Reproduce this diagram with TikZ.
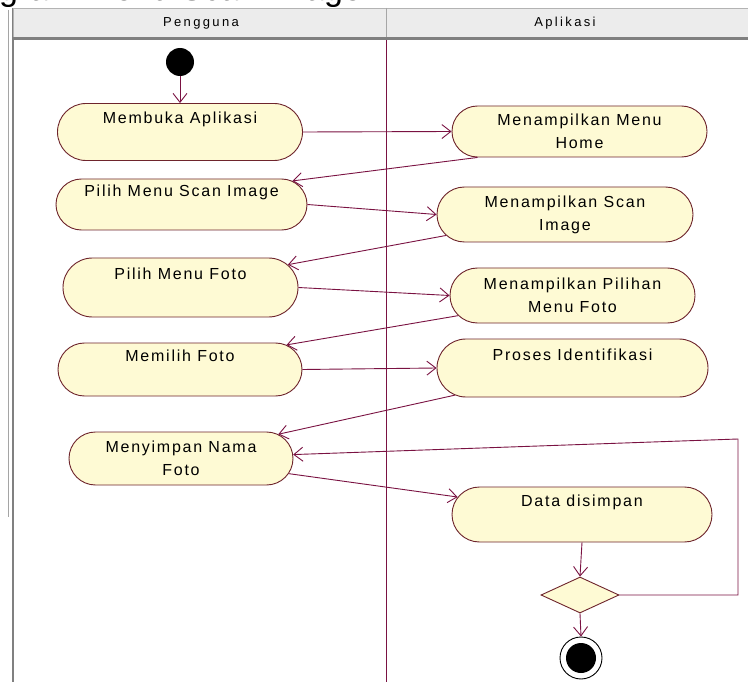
\documentclass[tikz,border=0pt]{standalone}
\usepackage{fontspec}
\newfontfamily\umlfont[LetterSpace=11]{Liberation Sans}
\newfontfamily\lanefont[LetterSpace=18]{Liberation Sans}
\newfontfamily\judulfont{Liberation Sans}
\usetikzlibrary{shapes.misc,shapes.geometric,arrows.meta}

\definecolor{actfill}{RGB}{254,250,212}
\definecolor{actline}{RGB}{110,36,44}
\definecolor{flowline}{RGB}{122,18,66}
\definecolor{lanegray}{RGB}{236,236,236}
\definecolor{framegray}{RGB}{128,128,128}

\tikzset{
  act/.style={rounded rectangle, draw=actline, line width=0.9pt, fill=actfill, align=center, inner sep=0pt,
    font=\umlfont\fontsize{16}{23}\selectfont},
  onetop/.style={text height=11pt, text depth=27pt},
  flow/.style={draw=flowline, line width=0.9pt, -{Straight Barb[length=9pt,width=14pt]}},
  lane/.style={font=\lanefont\fontsize{13}{15}\selectfont, inner sep=0pt}
}

\begin{document}
\begin{tikzpicture}[x=1pt, y=-1pt]

\useasboundingbox (0,0) rectangle (748,682);
\fill[white] (0,0) rectangle (748,682);

% judul yang terpotong di atas
\begin{scope}
  \clip (0,0) rectangle (748,7);
  \node[anchor=base west, inner sep=0pt, font=\judulfont\fontsize{34}{40}\selectfont] (judul) at (-1,1) {gram Menu Scan Image};
\end{scope}

% bingkai swimlane
\draw[lanegray!70!black, line width=1pt] (8,10) -- (8,517);
\draw[framegray, line width=2pt] (13,8) -- (13,682);
\filldraw[fill=lanegray, draw=framegray!60] (13,8) rectangle (760,37);
\draw[framegray, line width=2.5pt] (13,38.5) -- (748,38.5);
\draw[framegray!70] (386,8) -- (386,37);
\draw[flowline, line width=0.9pt] (386,40) -- (386,682);

\node[lane] (pengguna) at (201,23) {Pengguna};
\node[lane] (aplikasi) at (565,23) {Aplikasi};

% pengguna
\node[circle, fill=black, minimum size=28pt, inner sep=0pt] (mulai) at (180,62) {};
\node[act, onetop, minimum width=245pt, minimum height=57pt] (membuka) at (180,132) {Membuka Aplikasi};
\node[act, onetop, minimum width=251pt, minimum height=51pt] (pilihscan) at (181.5,204.5) {Pilih Menu Scan Image};
\node[act, onetop, minimum width=235pt, minimum height=59pt] (pilihfoto) at (180.5,287.5) {Pilih Menu Foto};
\node[act, onetop, minimum width=244pt, minimum height=53pt] (memilih) at (180,369.5) {Memilih Foto};
\node[act, minimum width=224pt, minimum height=53pt] (menyimpan) at (181,458.5) {Menyimpan Nama\\Foto};

% aplikasi
\node[act, minimum width=255pt, minimum height=51pt] (home) at (579.5,131.5) {Menampilkan Menu\\Home};
\node[act, minimum width=256pt, minimum height=55pt] (scanimg) at (565,214.5) {Menampilkan Scan\\Image};
\node[act, minimum width=245pt, minimum height=55pt] (pilihan) at (572.5,295.5) {Menampilkan Pilihan\\Menu Foto};
\node[act, onetop, minimum width=271pt, minimum height=58pt] (proses) at (572.5,368) {Proses Identifikasi};
\node[act, onetop, minimum width=260pt, minimum height=55pt] (data) at (582,514.5) {Data disimpan};
\node[diamond, draw=actline, line width=0.9pt, fill=actfill, minimum width=78pt, minimum height=36pt, inner sep=0pt] (cek) at (580,595) {};
\node[circle, draw=black, line width=0.9pt, fill=white, minimum size=42pt, inner sep=0pt] (akhir) at (581,658) {};
\node[circle, fill=black, minimum size=30pt, inner sep=0pt] (akhirdot) at (akhir) {};

\coordinate (belok1) at (738,595);
\coordinate (belok2) at (738,439);

% alur
\draw[flow] (mulai) -- (membuka);
\draw[flow] (membuka.east) -- (home.west);
\draw[flow] (home.south west) -- (pilihscan.12);
\draw[flow] (pilihscan.east) -- (scanimg.west);
\draw[flow] (scanimg.190) -- (pilihfoto.12);
\draw[flow] (pilihfoto.east) -- (pilihan.west);
\draw[flow] (pilihan.190) -- (memilih.13);
\draw[flow] (memilih.east) -- (proses.west);
\draw[flow] (proses.193) -- (menyimpan.14);
\draw[flow] (menyimpan.-8) -- (data.172);
\draw[flow] (data.south) -- (cek.north);
\draw[flow] (cek.south) -- (akhir.north);
\draw[flow] (cek.east) -- (belok1) -- (belok2) -- (menyimpan.2);

\end{tikzpicture}
\end{document}
